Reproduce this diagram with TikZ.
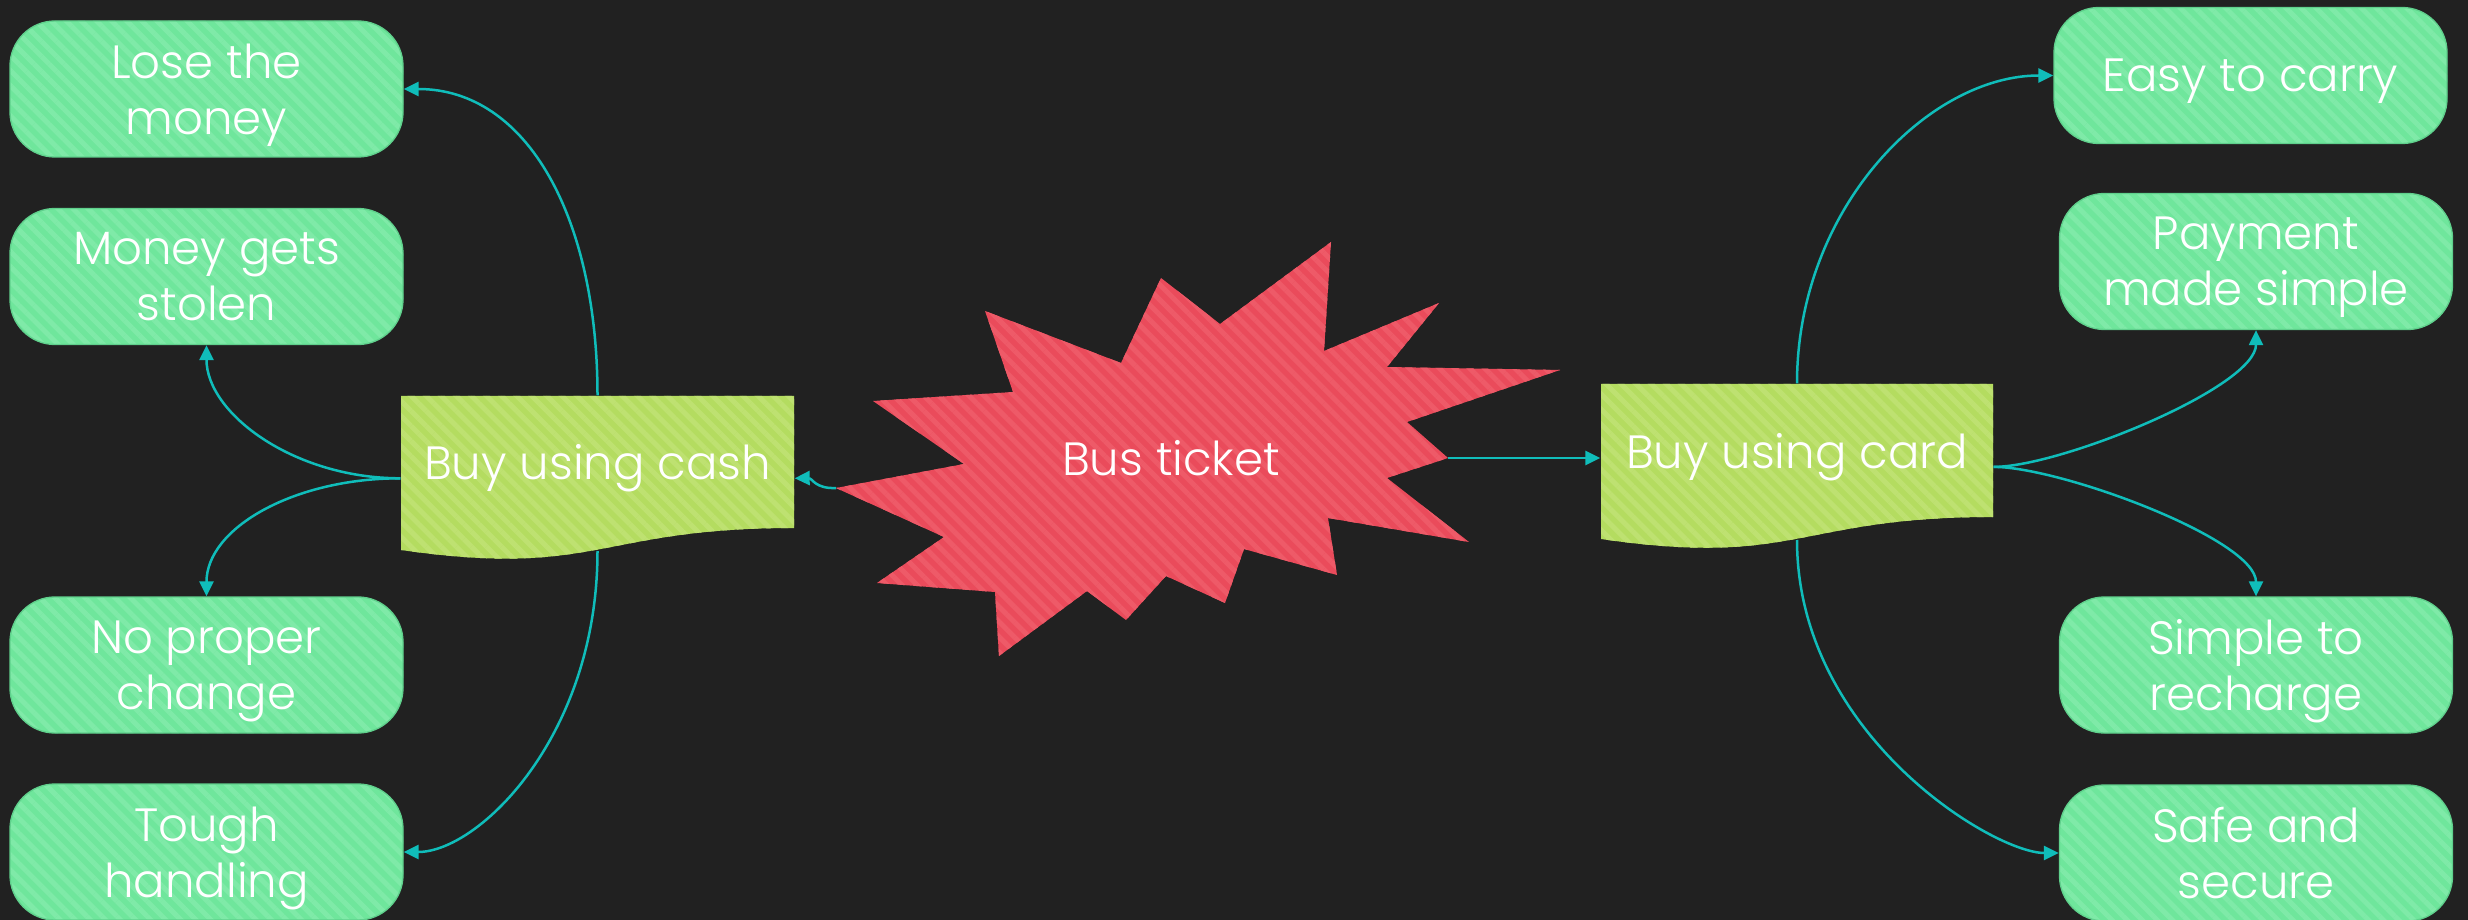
\documentclass[tikz,border=0pt]{standalone}
\usepackage{fontspec}
\setmainfont{Poppins}[UprightFont=* Light]
\usetikzlibrary{arrows.meta,patterns.meta}
\definecolor{bg}{HTML}{212121}
\definecolor{boxbase}{HTML}{6FE69C}
\definecolor{boxstripe}{HTML}{7FEAA8}
\definecolor{boxedge}{HTML}{5FD08C}
\definecolor{docbase}{HTML}{B4DC60}
\definecolor{docstripe}{HTML}{BEE171}
\definecolor{burstbase}{HTML}{EA4B5B}
\definecolor{burststripe}{HTML}{EE5A68}
\definecolor{conn}{HTML}{10BDBA}
\tikzset{
  mainfont/.style={font=\fontsize{14pt}{16.8pt}\selectfont},
  greenbox/.style={rectangle, rounded corners=13.5pt, minimum width=117.9pt,
    minimum height=40.8pt, inner sep=0pt, draw=boxedge, line width=0.4pt,
    preaction={fill=boxbase},
    pattern={Lines[angle=-45,distance=3.2pt,line width=1.5pt]}, pattern color=boxstripe,
    text=white, align=center, mainfont, text depth=0pt},
  docshape/.style={preaction={fill=docbase},
    pattern={Lines[angle=-45,distance=3.2pt,line width=1.5pt]}, pattern color=docstripe},
  burstshape/.style={preaction={fill=burstbase},
    pattern={Lines[angle=-45,distance=3.2pt,line width=1.5pt]}, pattern color=burststripe},
  docnode/.style={rectangle, inner sep=0pt},
  label/.style={text=white, mainfont, inner sep=0pt, anchor=base},
  connector/.style={draw=conn, line width=0.75pt, -{Triangle[length=4.5pt,width=4.2pt]}}
}
\begin{document}
\begin{tikzpicture}[x=0.3pt,y=-0.3pt]
\fill[bg] (0,0) rectangle (2468,920);
\useasboundingbox (0,0) rectangle (2468,920);

% burst
\path[burstshape]
 (1331,242) -- (1324,351) -- (1439,303) -- (1387,367) -- (1560,370) -- (1407,422)
 -- coordinate[pos=1] (bR) (1448,458) -- (1387,478) -- (1469,542) -- (1328,518) -- (1337,575)
 -- (1244,549) -- (1225,603) -- (1166,576) -- (1126,620) -- (1087,591) -- (999,656)
 -- (995,592) -- (877,583) -- (944,537) -- (836,488) -- (964,464) -- (873,401)
 -- (1013,392) -- (985,311) -- (1121,363) -- (1161,278) -- (1220,324) -- cycle;
\coordinate (bL) at (836,488);
\node[label] (bus) at (1171,475) {Bus ticket};

% document shapes
\path[docshape] (401,396) -- (794,396) -- (794,528)
  .. controls (597.5,528) and (597.5,578.3) .. (401,550) -- cycle;
\node[docnode, minimum width=117.9pt, minimum height=49.4pt] (cash) at (597.5,478.3) {};
\coordinate (cashb) at (597.5,551);
\node[label] (cashtxt) at (597.5,480) {Buy using cash};

\path[docshape] (1601,384) -- (1993,384) -- (1993,517)
  .. controls (1797,517) and (1797,567.6) .. (1601,539) -- cycle;
\node[docnode, minimum width=117.6pt, minimum height=49.7pt] (card) at (1797,466.9) {};
\coordinate (cardb) at (1797,540);
\node[label] (cardtxt) at (1797,468) {Buy using card};

% left boxes
\node[greenbox] (lose) at (206.5,89) {Lose the\\money};
\node[greenbox] (stolen) at (206.5,276.5) {Money gets\\stolen};
\node[greenbox] (change) at (206.5,665) {No proper\\change};
\node[greenbox] (tough) at (206.5,852) {Tough\\handling};

% right boxes
\node[greenbox] (easy) at (2250.5,75.5) {Easy to carry};
\node[greenbox] (payment) at (2256,261.5) {Payment\\made simple};
\node[greenbox] (recharge) at (2256,665) {Simple to\\recharge};
\node[greenbox] (safe) at (2256,853) {Safe and\\secure};

% connectors
\draw[connector] (bL) .. controls (815,489) and (812,478) .. (cash.east);
\draw[connector] (bR) -- (bR -| card.west);
\draw[connector] (cash.north) .. controls +(0,-175) and +(125,0) .. (lose.east);
\draw[connector] (cash.west) .. controls +(-107,0) and +(0,68) .. (stolen.south);
\draw[connector] (cash.west) .. controls +(-107,0) and +(0,-68) .. (change.north);
\draw[connector] (cashb) .. controls +(0,185) and +(75,0) .. (tough.east);
\draw[connector] (card.north) .. controls +(0,-175) and +(-125,0) .. (easy.west);
\draw[connector] (card.east) .. controls +(67,0) and +(0,57) .. (payment.south);
\draw[connector] (card.east) .. controls +(67,0) and +(0,-57) .. (recharge.north);
\draw[connector] (cardb) .. controls +(0,195) and +(-65,0) .. (safe.west);
\end{tikzpicture}
\end{document}
